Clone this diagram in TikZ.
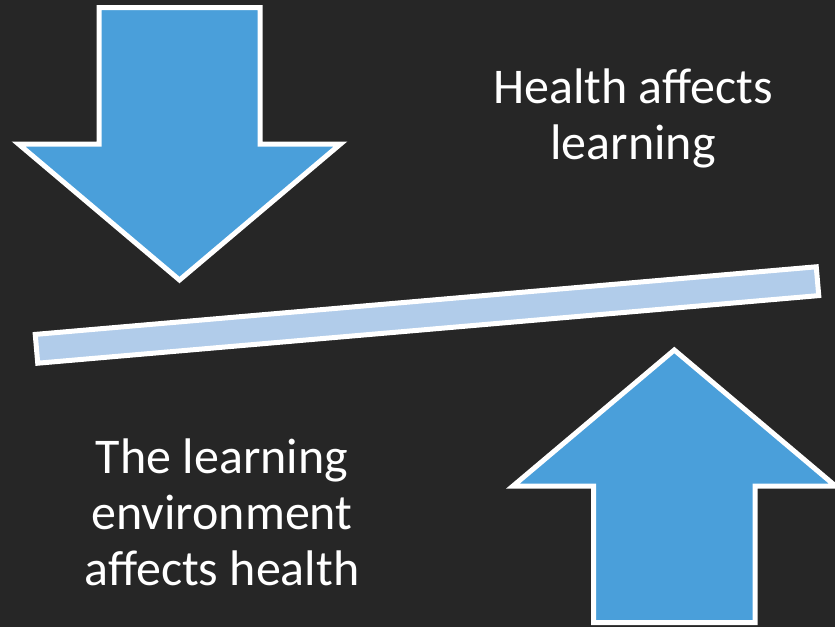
\documentclass[tikz,border=0pt]{standalone}
\usepackage{fontspec}
\setmainfont{Carlito}
\definecolor{slidebg}{HTML}{262626}
\definecolor{arrowblue}{HTML}{4A9FDA}
\definecolor{barblue}{HTML}{B1CCEA}

\begin{document}
\begin{tikzpicture}[x=1pt,y=-1pt,
    blockarrow/.style={fill=arrowblue, draw=white, line width=5pt, miter limit=10},
    lever/.style={fill=barblue, draw=white, line width=5pt},
    caption/.style={text=white, align=center, inner sep=0pt,
      font=\fontsize{50}{56}\selectfont}]
    % slide background
    \fill[slidebg] (0,0) rectangle (835,627);
    \useasboundingbox (0,0) rectangle (835,627);
    % arrow pressing down
    \draw[blockarrow] (99,7.5) -- (260,7.5) -- (260,144) -- (340.5,144)
        -- (179.5,280) -- (18.5,144) -- (99,144) -- cycle;
    % arrow pushing up
    \draw[blockarrow] (593.5,622.5) -- (755,622.5) -- (755,486) -- (835.5,486)
        -- (674.3,350) -- (513,486) -- (593.5,486) -- cycle;
    % the tilted bar
    \draw[lever] (35.25,334.4) -- (816.25,266.8) -- (818.75,295.6)
        -- (37.75,363.2) -- cycle;
    % captions (base anchor sits on the last line)
    \node[caption, anchor=base] (health) at (633,159) {Health affects\\learning};
    \node[caption, anchor=base] (env) at (222,585) {The learning\\environment\\affects health};
\end{tikzpicture}
\end{document}
